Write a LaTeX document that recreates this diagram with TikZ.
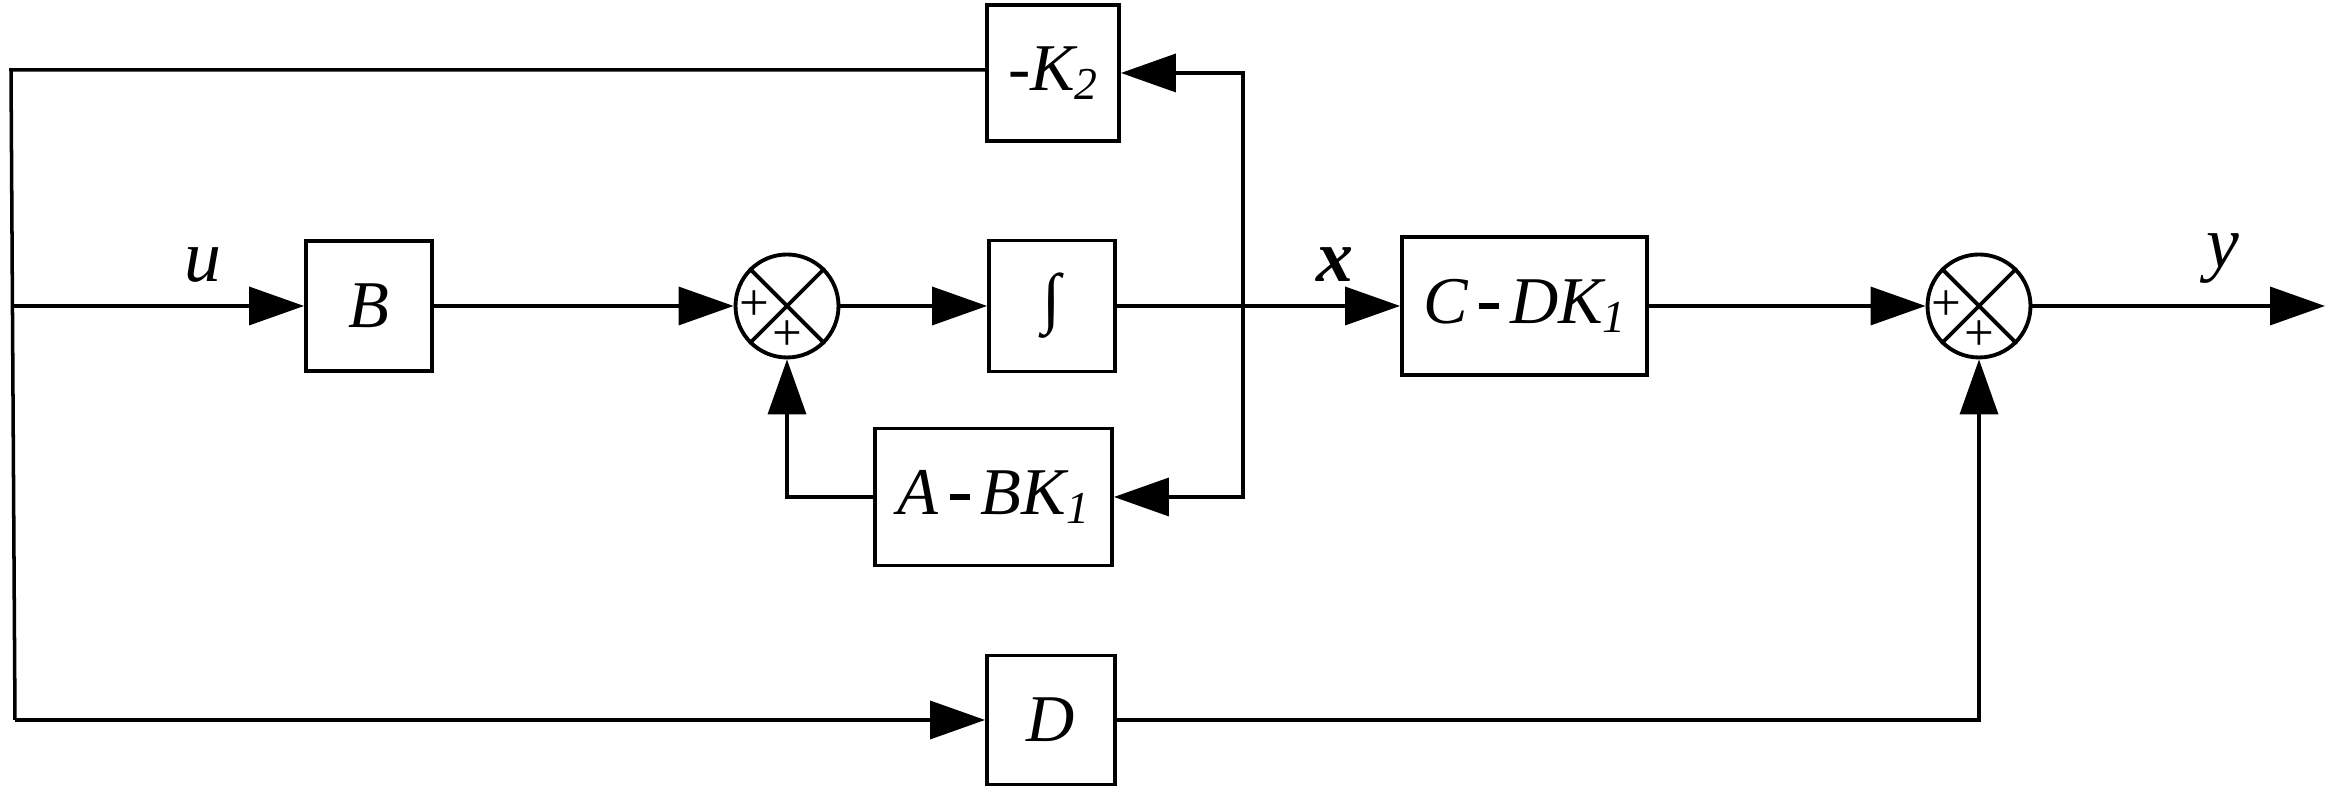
\documentclass[tikz,border=0pt]{standalone}
\usepackage{fontspec}
\setmainfont{Liberation Serif}
\usetikzlibrary{arrows.meta}
\newcommand{\mmin}{\,\rule[0.22em]{0.3em}{0.09em}\,}
\newcommand{\sbs}[1]{\raisebox{-0.3ex}{\fontsize{13}{13}\selectfont #1}}
\begin{document}
\begin{tikzpicture}[x=1cm,y=1cm,line width=1pt,
  blk/.style={draw,line width=1.1pt,minimum width=#1,inner sep=0pt,font=\fontsize{19}{19}\selectfont\itshape},
  sumn/.style={draw,line width=1.1pt,circle,minimum size=1.03cm,inner sep=0pt},
  arr/.style={-{Triangle[length=0.55cm,width=0.38cm]}},
  lbl/.style={font=\fontsize{21}{21}\selectfont\itshape}]
\useasboundingbox (0,0) rectangle (23.35,7.95);
\node[blk=1.32cm,minimum height=1.36cm] (K2) at (10.53,7.22) {-\textit{K}\sbs{2}};
\node[blk=1.26cm,minimum height=1.30cm] (B) at (3.69,4.89) {B};
\node[sumn] (S1) at (7.87,4.89) {};
\node[blk=1.26cm,minimum height=1.31cm] (I) at (10.52,4.89) {\upshape ∫};
\node[blk=2.37cm,minimum height=1.37cm] (ABK) at (9.935,2.98) {A\mmin BK\sbs{1}};
\node[blk=1.28cm,minimum height=1.29cm] (D) at (10.51,0.75) {D};
\node[blk=2.45cm,minimum height=1.38cm] (C) at (15.245,4.89) {C\mmin DK\sbs{1}};
\node[sumn] (S2) at (19.79,4.89) {};
\foreach \s in {S1,S2}{
  \draw[line width=1.1pt] (\s.45) -- (\s.225) (\s.135) -- (\s.315);
  \node[font=\fontsize{15}{15}\selectfont,inner sep=0pt] at ([xshift=-0.33cm]\s.center) {+};
  \node[font=\fontsize{15}{15}\selectfont,inner sep=0pt] at ([yshift=-0.3cm]\s.center) {+};
}
\coordinate (TL) at (0.11,7.25);
\coordinate (ML) at (0.12,4.89);
\coordinate (BL) at (0.15,0.75);
\coordinate (BR) at (12.43,4.89);
\coordinate (BT) at (12.43,7.22);
\coordinate (BB) at (12.43,2.98);
\coordinate (OUT) at (23.25,4.89);
\draw (K2.west |- TL) -- (TL) -- (BL);
\draw[arr] (BL) -- (D.west);
\draw[arr] (ML) -- (B.west);
\draw[arr] (B.east) -- (S1.west);
\draw[arr] (S1.east) -- (I.west);
\draw[arr] (I.east) -- (C.west);
\draw[arr] (BR) -- (BT) -- (K2.east);
\draw[arr] (BR) -- (BB) -- (ABK.east);
\draw[arr] (ABK.west) -| (S1.south);
\draw[arr] (C.east) -- (S2.west);
\draw[arr] (D.east) -| (S2.south);
\draw[arr] (S2.east) -- (OUT);
\node[lbl] (u) at (2.03,5.3) {u};
\node[lbl,font=\fontsize{21}{21}\selectfont\bfseries\itshape] (x) at (13.35,5.3) {x};
\node[lbl] (y) at (22.23,5.36) {y};
\end{tikzpicture}
\end{document}
